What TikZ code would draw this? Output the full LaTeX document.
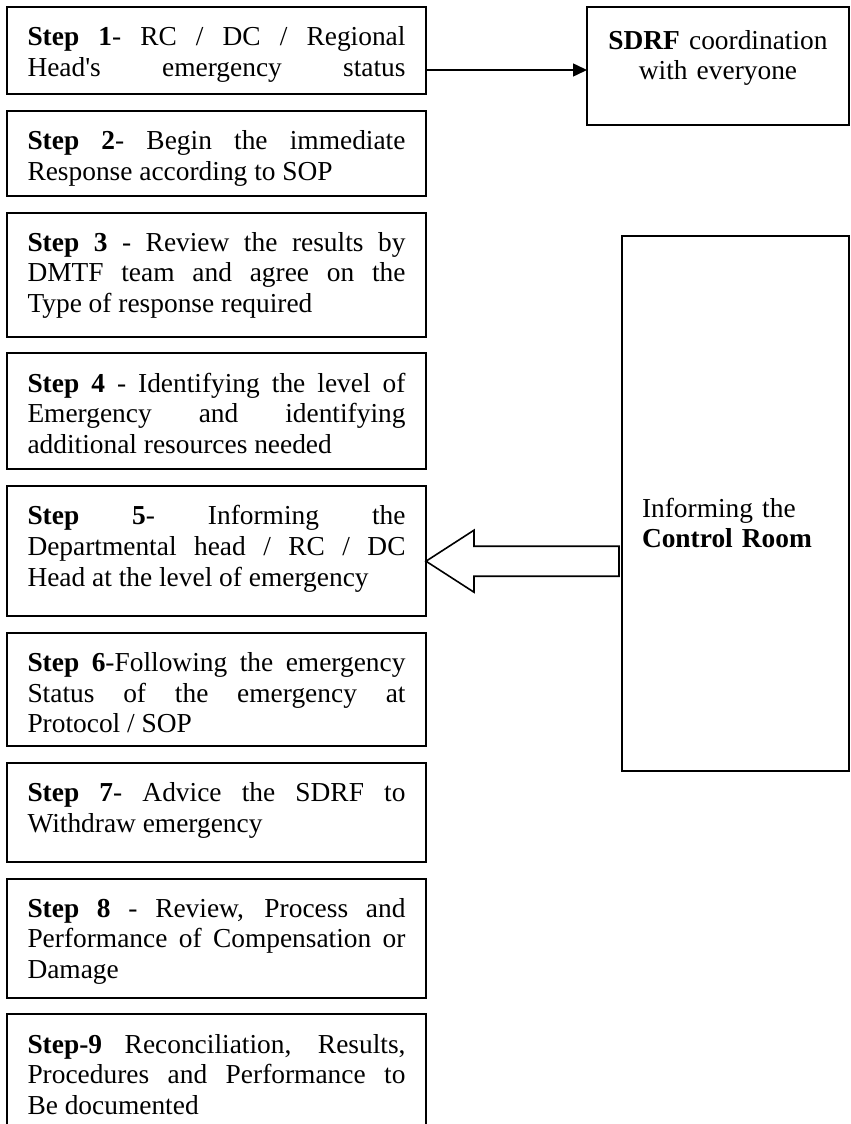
\documentclass[tikz,border=0pt]{standalone}
\usepackage{fontspec}
\setmainfont{Liberation Serif}
\usetikzlibrary{arrows.meta,positioning}
\tolerance=10000

\begin{document}
\begin{tikzpicture}[>={Triangle[length=7pt,width=6.5pt]},node distance=8.4pt,
  stepbox/.style={draw,line width=1pt,outer sep=0pt,text width=189pt,inner xsep=10.25pt,inner ysep=0pt,
    align=justify,text height=19.3pt,font=\fontsize{13.7}{15.3}\selectfont},
  sidebox/.style={draw,line width=1pt,outer sep=0pt,inner ysep=0pt,font=\fontsize{13.7}{15.3}\selectfont},
  hollow/.style={draw,line width=0.8pt,line join=miter,fill=white}]
  \useasboundingbox (0,0) rectangle (425.5pt,-562pt);
  \clip (0,0) rectangle (425.5pt,-562pt);

  \node[stepbox,text depth=24.2pt] (s1) at (3.5pt,-3.5pt) [anchor=north west]
     {\textbf{Step 1}- RC / DC / Regional\linebreak Head\textquotesingle s\hfill emergency\hfill status};
  \node[stepbox,text depth=23.2pt] (s2) [below=of s1]
     {\textbf{Step 2}- Begin the immediate\linebreak Response according to SOP};
  \node[stepbox,text depth=42.7pt] (s3) [below=of s2]
     {\textbf{Step 3} - Review the results by\linebreak DMTF team and agree on the\linebreak Type of response required};
  \node[stepbox,text depth=38.7pt] (s4) [below=of s3]
     {\textbf{Step 4} - Identifying the level of\linebreak Emergency and identifying\linebreak additional resources needed};
  \node[stepbox,text depth=45.7pt] (s5) [below=of s4]
     {\textbf{Step 5}- Informing the\linebreak Departmental head / RC / DC\linebreak Head at the level of emergency};
  \node[stepbox,text depth=37.2pt] (s6) [below=of s5]
     {\textbf{Step 6}-Following the emergency\linebreak Status of the emergency at\linebreak Protocol / SOP};
  \node[stepbox,text depth=30.2pt] (s7) [below=of s6]
     {\textbf{Step 7}- Advice the SDRF to\linebreak Withdraw emergency};
  \node[stepbox,text depth=40.2pt] (s8) [below=of s7]
     {\textbf{Step 8} - Review, Process and\linebreak Performance of Compensation or\linebreak Damage};
  \node[stepbox,text depth=50.7pt] (s9) [below=of s8]
     {\textbf{Step-9} Reconciliation, Results,\linebreak Procedures and Performance to\linebreak Be documented};

  \node[sidebox,text width=115pt,inner xsep=8pt,align=center,text height=21pt,text depth=38pt]
     (sdrf) [right=80.5pt of s1.north east,anchor=north west] {\textbf{SDRF} coordination\\with everyone};
  \node[sidebox,text width=93.5pt,inner xsep=10pt,align=left,text height=140.5pt,text depth=127pt]
     (ctrl) [below=55.5pt of sdrf.south east,anchor=north east] {Informing the\\\textbf{Control Room}};

  % step 1 to SDRF
  \coordinate (a1) at ([yshift=-31.5pt]s1.north east);
  \draw[->,line width=0.75pt] (a1) -- (a1 -| sdrf.west);

  % control room back to step 5
  \coordinate (tip) at ([yshift=-37.5pt]s5.north east);
  \coordinate (tl) at (tip -| ctrl.west);
  \draw[hollow] (tip) -- ++(24pt,15.5pt) -- ++(0,-8pt) -- ([xshift=-1.5pt,yshift=7.5pt]tl)
     -- ([xshift=-1.5pt,yshift=-7.5pt]tl) -- ([xshift=24pt,yshift=-7.5pt]tip) -- ++(0,-8pt) -- cycle;
\end{tikzpicture}
\end{document}
